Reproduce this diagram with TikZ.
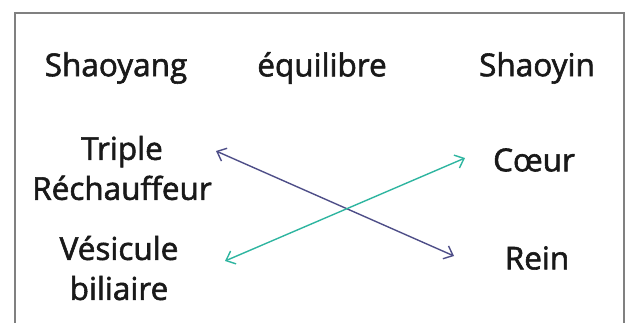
\documentclass[tikz,border=0pt]{standalone}
\usepackage{fontspec}
\setmainfont{Open Sans}[FakeBold=1.8]
\usetikzlibrary{arrows.meta}
\definecolor{framegray}{HTML}{808080}
\definecolor{linkpurple}{HTML}{4E4E88}
\definecolor{linkteal}{HTML}{2EB5A0}
\tikzset{
  lbl/.style={font=\fontsize{31.5}{40}\selectfont, text=black!90, align=center, inner sep=0pt},
  link/.style={line width=1.4pt, {Straight Barb[length=8pt,width=14pt]}-{Straight Barb[length=8pt,width=14pt]}},
}
\begin{document}
\begin{tikzpicture}[x=1pt,y=-1pt]
\useasboundingbox (0,0) rectangle (628,322);
\draw[framegray, line width=1.5pt] (15,330) -- (15,13) -- (624,13) -- (624,330);
\node[lbl] (yang) at (116,68) {Shaoyang};
\node[lbl] (eq) at (322,68) {équilibre};
\node[lbl] (yin) at (537,68) {Shaoyin};
\node[lbl] (tr) at (122,168) {Triple\\Réchauffeur};
\node[lbl] (vb) at (119,268) {Vésicule\\biliaire};
\node[lbl] (co) at (534,160) {Cœur};
\node[lbl] (re) at (537,258) {Rein};
\coordinate (p1) at (216,151);
\coordinate (p2) at (454,256);
\coordinate (t1) at (225,261);
\coordinate (t2) at (465,158);
\draw[link, linkpurple] (p1) -- (p2);
\draw[link, linkteal] (t1) -- (t2);
\end{tikzpicture}
\end{document}
